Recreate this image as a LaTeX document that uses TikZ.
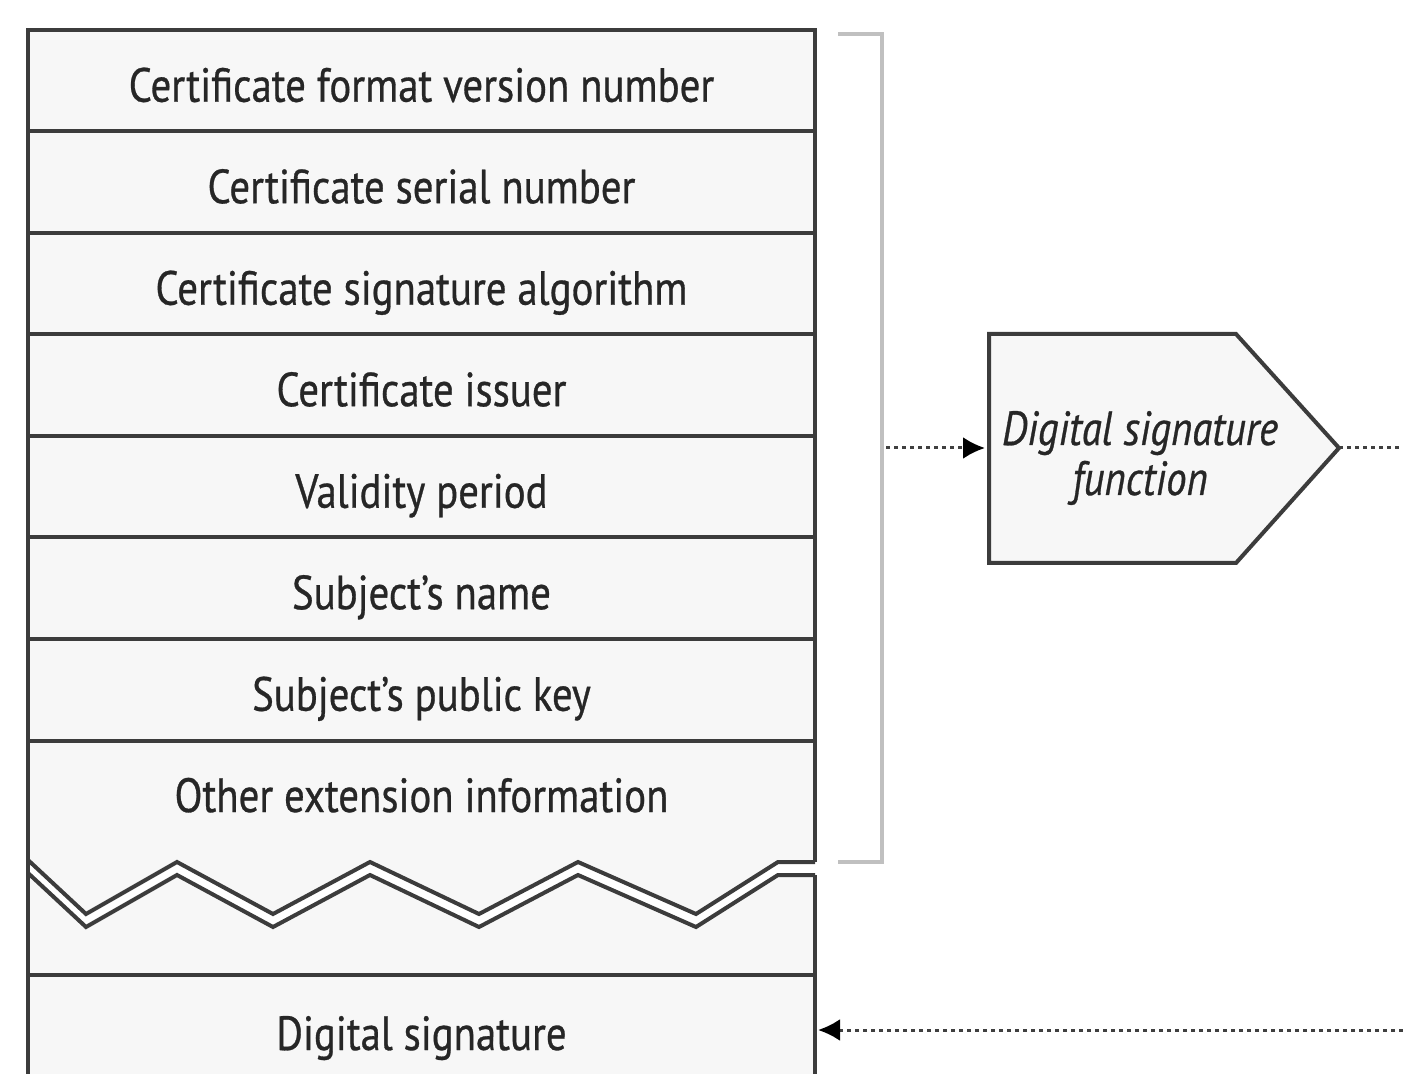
\documentclass[tikz,border=0pt]{standalone}
\usepackage{fontspec}
\setmainfont[FakeStretch=0.85, FakeBold=0.6]{PT Sans}
\usetikzlibrary{arrows.meta}
\definecolor{boxfill}{HTML}{F7F7F7}
\definecolor{edge}{HTML}{3C3C3C}
\definecolor{brk}{HTML}{C0C0C0}
\definecolor{dotc}{HTML}{404040}
\begin{document}
\begin{tikzpicture}[x=0.5pt,y=-0.5pt,
  every node/.style={font=\fontsize{24}{26}\selectfont, text=black!85},
  row/.style={draw=edge, line width=2pt, fill=boxfill, minimum width=393.5pt, minimum height=50.75pt, inner sep=0pt, text height=21pt, text depth=0pt},
  lbl/.style={inner sep=0pt, text height=21pt, text depth=0pt},
  border/.style={draw=edge, line width=2pt},
  bracketline/.style={draw=brk, line width=2pt},
  dotline/.style={draw=dotc, line width=1.5pt, dash pattern=on 2pt off 2pt},
  tip/.style={-{Latex[length=11pt,width=11pt,black]}}
]
\path[use as bounding box, clip] (0,0) rectangle (1403,1074);
% fills
\fill[boxfill] (28,30) -- (815,30) -- (815,862) -- (778,862) -- (696,914) -- (578,862) -- (479,914) -- (370,862) -- (273,914) -- (177,862) -- (86,914) -- (28,860) -- cycle;
\fill[boxfill] (28,873) -- (86,927) -- (177,875) -- (273,927) -- (370,875) -- (479,927) -- (578,875) -- (696,927) -- (778,875) -- (815,875) -- (815,1090) -- (28,1090) -- cycle;
% zigzag double line
\draw[border, line join=miter] (28,860) -- (86,914) -- (177,862) -- (273,914) -- (370,862) -- (479,914) -- (578,862) -- (696,914) -- (778,862) -- (815,862);
\draw[border, line join=miter] (28,873) -- (86,927) -- (177,875) -- (273,927) -- (370,875) -- (479,927) -- (578,875) -- (696,927) -- (778,875) -- (815,875);
% rows
\node[row] (r1) at (421.5,80.75) {Certificate format version number};
\node[row] (r2) at (421.5,182.25) {Certificate serial number};
\node[row] (r3) at (421.5,283.75) {Certificate signature algorithm};
\node[row] (r4) at (421.5,385.25) {Certificate issuer};
\node[row] (r5) at (421.5,486.75) {Validity period};
\node[row] (r6) at (421.5,588.25) {Subject’s name};
\node[row] (r7) at (421.5,689.75) {Subject’s public key};
\node[lbl] (r8) at (421.5,791) {Other extension information};
\node[row, minimum height=57.5pt, text height=0pt] (ds) at (421.5,1032.5) {};
\node[lbl] (dstext) at (421.5,1029) {Digital signature};
% outer borders
\draw[border] (28,30) -- (28,1090);
\draw[border] (815,30) -- (815,862);
\draw[border] (815,875) -- (815,1090);
\draw[border] (28,975) -- (815,975);
% bracket
\draw[bracketline] (838,34) -- (882,34) -- (882,862) -- (838,862);
\coordinate (brkout) at (886,448);
% function pentagon
\draw[border, fill=boxfill, line join=miter] (989,334) -- (1236,334) -- (1339,448) -- (1236,563) -- (989,563) -- cycle;
\coordinate (fnL) at (985,448);
\coordinate (fnTip) at (1339,448);
\node[lbl, font=\fontsize{24}{26}\selectfont\itshape] (fn1) at (1140,424) {Digital signature};
\node[lbl, font=\fontsize{24}{26}\selectfont\itshape] (fn2) at (1140,474) {function};
\coordinate (outR) at (1403,448);
\coordinate (inR) at (1403,1030);
\coordinate (dsE) at (818,1030);
% connectors
\draw[dotline, tip] (brkout) -- (fnL);
\draw[dotline] (fnTip) -- (outR);
\draw[dotline, tip] (inR) -- (dsE);
\end{tikzpicture}
\end{document}
